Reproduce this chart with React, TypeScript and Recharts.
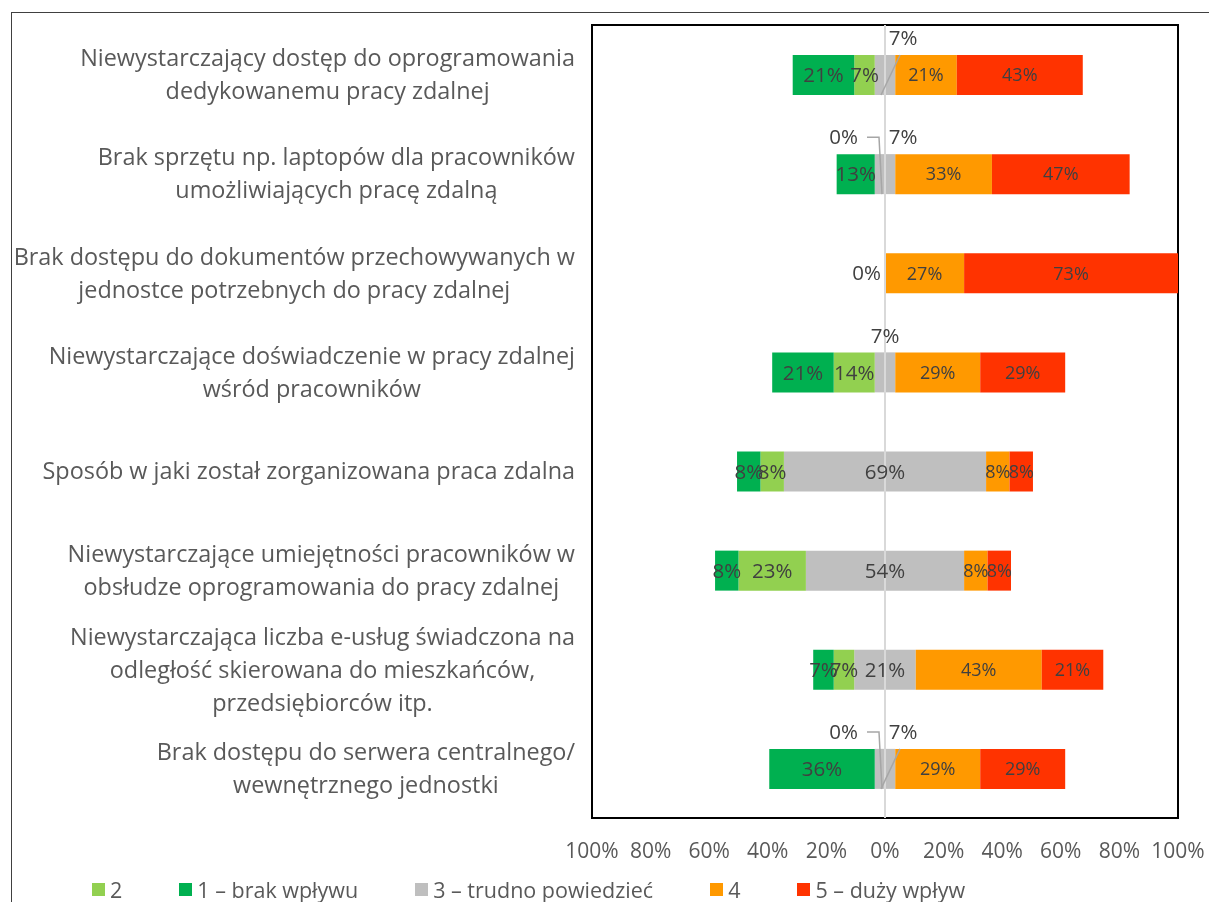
import React from "react";
import {
  BarChart,
  Bar,
  XAxis,
  YAxis,
  LabelList,
  ReferenceLine,
  ReferenceArea,
} from "recharts";

const categories = [
  "Niewystarczający dostęp do oprogramowania\ndedykowanemu pracy zdalnej",
  "Brak sprzętu np. laptopów dla pracowników\numożliwiających pracę zdalną",
  "Brak dostępu do dokumentów przechowywanych w\njednostce potrzebnych do pracy zdalnej",
  "Niewystarczające doświadczenie w pracy zdalnej\nwśród pracowników",
  "Sposób w jaki został zorganizowana praca zdalna",
  "Niewystarczające umiejętności pracowników w\nobsłudze oprogramowania do pracy zdalnej",
  "Niewystarczająca liczba e-usług świadczona na\nodległość skierowana do mieszkańców,\nprzedsiębiorców itp.",
  "Brak dostępu do serwera centralnego/\nwewnętrznego jednostki",
];

// answer shares in %, one entry per category (null = no label shown)
const noImpact = [21, 13, null, 21, 8, 8, 7, 36]; // 1
const lowImpact = [7, 0, null, 14, 8, 23, 7, 0]; // 2
const unsure = [7, 7, 0, 7, 69, 54, 21, 7]; // 3
const someImpact = [21, 33, 27, 29, 8, 8, 43, 29]; // 4
const bigImpact = [43, 47, 73, 29, 8, 8, 21, 29]; // 5

const legendLabels = ["2", "1 – brak wpływu", "3 – trudno powiedzieć", "4", "5 – duży wpływ"];
const xTicks = [-100, -80, -60, -40, -20, 0, 20, 40, 60, 80, 100];

const COLORS = {
  one: "#00B050",
  two: "#92D050",
  three: "#BFBFBF",
  four: "#FF9900",
  five: "#FF3300",
};
const legendColors = [COLORS.two, COLORS.one, COLORS.three, COLORS.four, COLORS.five];

// callout layout for the small grey labels
const greyShift = [18, 18, 0, 0, 0, 0, 0, 18];
const greyLeader = [true, false, false, false, false, false, false, true];

const FONT = '"Open Sans", sans-serif';
const BIG_LABEL = 20.5;
const SMALL_LABEL = 18;
const TICK_SIZE = 21;
const CAT_SIZE = 23.4;

const data = categories.map((name, i) => ({
  name,
  idx: i,
  n3: unsure[i] / -2,
  n2: -(lowImpact[i] ?? 0),
  n1: -(noImpact[i] ?? 0),
  p3: unsure[i] / 2,
  p4: someImpact[i],
  p5: bigImpact[i],
}));

const rowIndex = (d: any) => d.idx;

let ctx: CanvasRenderingContext2D | null = null;
function textWidth(s: string) {
  if (!ctx) ctx = document.createElement("canvas").getContext("2d");
  if (!ctx) return s.length * 12;
  ctx.font = `${CAT_SIZE}px "Open Sans"`;
  return ctx.measureText(s).width;
}

function CategoryTick(props: any) {
  const { x, y, payload } = props;
  const lines: string[] = String(payload.value).split("\n");
  const maxW = Math.max(...lines.map(textWidth));
  const cx = x - 17 - maxW / 2;
  const lh = 33;
  const top = y - ((lines.length - 1) * lh) / 2;
  return (
    <text textAnchor="middle" fill="#595959" fontFamily={FONT} fontSize={CAT_SIZE}>
      {lines.map((l, k) => (
        <tspan key={k} x={cx} y={top + k * lh} dy="0.35em">
          {l}
        </tspan>
      ))}
    </text>
  );
}

function PercentTick(props: any) {
  const { x, y, payload } = props;
  return (
    <text x={x} y={y + 33} dy="0.35em" textAnchor="middle" fill="#595959" fontFamily={FONT} fontSize={TICK_SIZE}>
      {Math.abs(payload.value)}%
    </text>
  );
}

function box(p: any) {
  const vb = p.viewBox ?? p;
  return { x: Number(vb.x), y: Number(vb.y), w: Number(vb.width), h: Number(vb.height) };
}

const txt = (size: number) => ({ fill: "#404040", fontFamily: FONT, fontSize: size });

function segmentLabel(raw: (number | null)[], size: number) {
  return (p: any) => {
    const v = raw[p.value];
    if (v == null) return null;
    const { x, y, w, h } = box(p);
    if (v === 0) {
      const ly = y - 17;
      return (
        <g>
          <text x={x - 27} y={ly} dy="0.35em" textAnchor="end" {...txt(size)}>
            0%
          </text>
          <polyline
            points={`${x - 18},${ly} ${x - 6},${ly} ${x - 3},${y + h}`}
            fill="none"
            stroke="#A6A6A6"
            strokeWidth={1.5}
          />
        </g>
      );
    }
    return (
      <text x={x + w / 2} y={y + h / 2} dy="0.35em" textAnchor="middle" {...txt(size)}>
        {v}%
      </text>
    );
  };
}

function greyLabel(p: any) {
  const i = p.value;
  const v = unsure[i];
  const { x, y, h } = box(p);
  if (v === 0) {
    return (
      <text x={x - 4} y={y + h / 2} dy="0.35em" textAnchor="end" {...txt(BIG_LABEL)}>
        0%
      </text>
    );
  }
  if (v < 10) {
    return (
      <g>
        {greyLeader[i] && (
          <line x1={x + 15} y1={y} x2={x - 4} y2={y + h} stroke="#A6A6A6" strokeWidth={1.5} />
        )}
        <text x={x + greyShift[i]} y={y - 17} dy="0.35em" textAnchor="middle" {...txt(BIG_LABEL)}>
          {v}%
        </text>
      </g>
    );
  }
  return (
    <text x={x} y={y + h / 2} dy="0.35em" textAnchor="middle" {...txt(BIG_LABEL)}>
      {v}%
    </text>
  );
}

export default function App() {
  return (
    <div style={{ position: "fixed", top: 8, left: 8, width: 1201, height: 894 }}>
      <div
        style={{
          position: "absolute",
          top: 4,
          left: 3,
          right: 0,
          bottom: 0,
          borderTop: "1.5px solid #404040",
          borderLeft: "1.5px solid #404040",
          pointerEvents: "none",
        }}
      />
      <BarChart
        width={1201}
        height={860}
        data={data}
        layout="vertical"
        stackOffset="sign"
        barSize={40}
        style={{ overflow: "visible" }}
        margin={{ top: 17, right: 31, bottom: 10, left: 0 }}
      >
        <XAxis
          type="number"
          domain={[-100, 100]}
          ticks={xTicks}
          axisLine={false}
          tickLine={false}
          tickSize={0}
          tickMargin={0}
          height={40}
          tick={<PercentTick />}
        />
        <YAxis
          type="category"
          dataKey="name"
          width={584}
          axisLine={false}
          tickLine={false}
          tickSize={0}
          tickMargin={0}
          interval={0}
          tick={<CategoryTick />}
        />
        <Bar dataKey="n3" stackId="a" fill={COLORS.three} minPointSize={0.1} isAnimationActive={false} />
        <Bar dataKey="n2" stackId="a" fill={COLORS.two} minPointSize={0.1} isAnimationActive={false}>
          <LabelList dataKey={rowIndex} content={segmentLabel(lowImpact, BIG_LABEL)} />
        </Bar>
        <Bar dataKey="n1" stackId="a" fill={COLORS.one} minPointSize={0.1} isAnimationActive={false}>
          <LabelList dataKey={rowIndex} content={segmentLabel(noImpact, BIG_LABEL)} />
        </Bar>
        <Bar dataKey="p3" stackId="a" fill={COLORS.three} minPointSize={0.1} isAnimationActive={false}>
          <LabelList dataKey={rowIndex} content={greyLabel} />
        </Bar>
        <Bar dataKey="p4" stackId="a" fill={COLORS.four} isAnimationActive={false}>
          <LabelList dataKey={rowIndex} content={segmentLabel(someImpact, SMALL_LABEL)} />
        </Bar>
        <Bar dataKey="p5" stackId="a" fill={COLORS.five} isAnimationActive={false}>
          <LabelList dataKey={rowIndex} content={segmentLabel(bigImpact, SMALL_LABEL)} />
        </Bar>
        <ReferenceLine x={0} stroke="#D9D9D9" strokeWidth={2} />
        <ReferenceArea x1={-100} x2={100} fill="none" stroke="#000" strokeWidth={2} ifOverflow="visible" />
      </BarChart>
      <div
        style={{
          position: "absolute",
          top: 874,
          left: 84,
          display: "flex",
          gap: 57,
          fontFamily: FONT,
          fontSize: 21.5,
          color: "#595959",
          lineHeight: "15px",
          whiteSpace: "nowrap",
        }}
      >
        {legendLabels.map((l, i) => (
          <div key={l} style={{ display: "flex", alignItems: "center", gap: 5 }}>
            <span style={{ width: 13, height: 13, background: legendColors[i], display: "inline-block" }} />
            <span>{l}</span>
          </div>
        ))}
      </div>
    </div>
  );
}
